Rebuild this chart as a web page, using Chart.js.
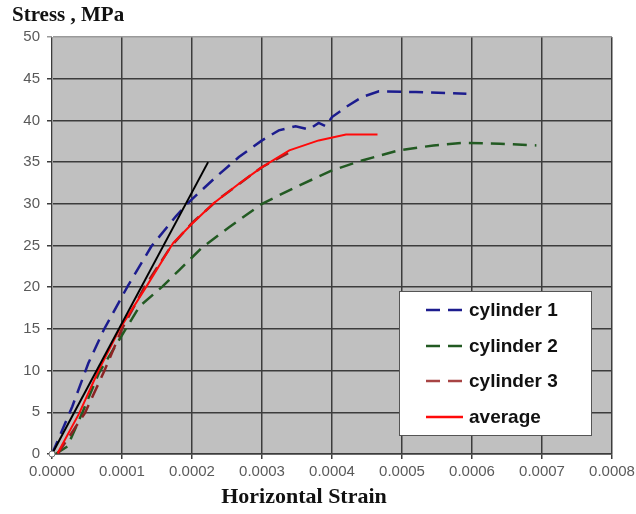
<!DOCTYPE html>
<html>
<head>
<meta charset="utf-8">
<script src="https://cdn.jsdelivr.net/npm/chart.js@4.4.1/dist/chart.umd.min.js"></script>
<style>
  html, body { margin: 0; padding: 0; background: #fff; }
  #wrap { width: 636px; height: 514px; position: relative; }
</style>
</head>
<body>
<div id="wrap"><canvas id="stress"></canvas></div>
<script>
// values (strain, stress in MPa)
const cyl1Strain = [0, 0.000029, 0.000052, 0.000074, 0.000108, 0.000142, 0.000177, 0.000193, 0.000234, 0.000267, 0.0003, 0.000324, 0.000348, 0.000367, 0.000381, 0.000391, 0.0004, 0.00042, 0.000443, 0.000467, 0.00052, 0.000592]
const cyl1Stress = [0, 5.7, 10.9, 14.9, 20.1, 24.9, 28.5, 30.0, 33.2, 35.6, 37.6, 38.8, 39.3, 38.9, 39.7, 39.3, 40.4, 41.6, 42.8, 43.5, 43.4, 43.2]

const cyl2Strain = [0.000005, 0.000022, 0.000043, 0.000067, 0.000096, 0.000125, 0.000158, 0.000181, 0.000215, 0.000253, 0.0003, 0.000348, 0.0004, 0.000443, 0.000495, 0.000545, 0.000587, 0.00064, 0.000692]
const cyl2Stress = [0, 0.9, 4.9, 9.7, 13.7, 17.7, 20.1, 22.0, 24.8, 27.2, 30.0, 32.0, 34.0, 35.2, 36.4, 37.0, 37.3, 37.2, 37.0]

const cyl3Strain = [0.000008, 0.000047, 0.000075, 0.0001, 0.000132, 0.00017, 0.0002, 0.00024, 0.0003, 0.00034]
const cyl3Stress = [0, 4.9, 10.0, 15.0, 20.0, 24.9, 27.7, 30.7, 34.4, 36.2]

const avgStrain = [0.000008, 0.000039, 0.000067, 0.000096, 0.000135, 0.000173, 0.0002, 0.00023, 0.000267, 0.0003, 0.000339, 0.000381, 0.00042, 0.000465]
const avgStress = [0.1, 4.9, 10.1, 14.9, 20.1, 25.3, 27.6, 30.0, 32.4, 34.4, 36.4, 37.6, 38.3, 38.3]

const fitStrain = [0, 0.000223]
const fitStress = [0, 35.0]

const xTicks = [0, 0.0001, 0.0002, 0.0003, 0.0004, 0.0005, 0.0006, 0.0007, 0.0008]

function pts(xs, ys) {
  return xs.map((x, i) => ({ x: x, y: ys[i] }))
}

// grey plot area
const plotBg = {
  id: 'plotBg',
  beforeDraw(chart) {
    const { ctx, chartArea: a } = chart
    ctx.save()
    ctx.fillStyle = '#c0c0c0'
    ctx.fillRect(a.left, a.top, a.right - a.left, a.bottom - a.top)
    ctx.restore()
  }
}

// boxed legend inside the plot + the axis titles
const boxLegend = {
  id: 'boxLegend',
  afterDraw(chart) {
    const ctx = chart.ctx
    ctx.save()
    ctx.font = 'bold 21px "Liberation Serif"'
    ctx.fillStyle = '#111'
    ctx.textBaseline = 'middle'
    ctx.textAlign = 'left'
    ctx.fillText('Stress , MPa', 12, 16)

    ctx.font = 'bold 22px "Liberation Serif"'
    ctx.textAlign = 'center'
    ctx.fillText('Horizontal Strain', 304, 497)
    ctx.textAlign = 'left'

    ctx.fillStyle = '#fff'
    ctx.strokeStyle = '#555'
    ctx.lineWidth = 1
    ctx.fillRect(399.5, 291.5, 192, 144)
    ctx.strokeRect(399.5, 291.5, 192, 144)

    const rows = [310, 346, 381, 417]
    chart.data.datasets.slice(0, 4).forEach((ds, i) => {
      const y = rows[i]
      ctx.beginPath()
      ctx.setLineDash(ds.borderDash || [])
      ctx.strokeStyle = ds.legendColor || ds.borderColor
      ctx.lineWidth = 2.5
      ctx.moveTo(426, y)
      ctx.lineTo(463, y)
      ctx.stroke()
      ctx.setLineDash([])
      ctx.fillStyle = '#111'
      ctx.font = 'bold 19px "Liberation Sans"'
      ctx.fillText(ds.label, 469, y + 1)
    })
    ctx.restore()
  }
}

const ctx = document.getElementById('stress')

new Chart(ctx, {
  type: 'scatter',
  data: {
    datasets: [{
      label: 'cylinder 1',
      data: pts(cyl1Strain, cyl1Stress),
      borderColor: '#1c1c8e',
      borderWidth: 2.5,
      borderDash: [14, 8],
      showLine: true,
      pointRadius: 0,
      order: 3
    }, {
      label: 'cylinder 2',
      data: pts(cyl2Strain, cyl2Stress),
      borderColor: '#225a22',
      borderWidth: 2.5,
      borderDash: [14, 8],
      showLine: true,
      pointRadius: 0,
      order: 4
    }, {
      label: 'cylinder 3',
      data: pts(cyl3Strain, cyl3Stress),
      borderColor: '#8c2424',
      legendColor: '#a84444',
      borderWidth: 2.5,
      borderDash: [14, 8],
      showLine: true,
      pointRadius: 0,
      order: 2
    }, {
      label: 'average',
      data: pts(avgStrain, avgStress),
      borderColor: '#ff0a0a',
      borderWidth: 2,
      showLine: true,
      pointRadius: 0,
      order: 1
    }, {
      label: 'initial slope',
      data: pts(fitStrain, fitStress),
      borderColor: '#000',
      borderWidth: 2,
      showLine: true,
      clip: 6,
      pointRadius: [3, 0],
      pointBackgroundColor: '#fff',
      pointBorderColor: '#777',
      pointBorderWidth: 1,
      order: 0
    }]
  },
  options: {
    responsive: true,
    maintainAspectRatio: false,
    animation: false,
    layout: { padding: { left: 0, right: 24, top: 37, bottom: 0 } },
    plugins: {
      legend: { display: false },
      tooltip: { enabled: false }
    },
    scales: {
      x: {
        type: 'linear',
        min: 0,
        max: 0.0008,
        afterFit: s => { s.height = 60; s.paddingRight = 0; s.paddingLeft = 0 },
        afterBuildTicks: s => { s.ticks = xTicks.map(v => ({ value: v })) },
        ticks: {
          color: '#5a5a5a',
          font: { family: 'Liberation Sans', size: 15 },
          padding: 4,
          maxRotation: 0,
          callback: v => v.toFixed(4)
        },
        grid: { color: '#3c3c3c', lineWidth: 1.5, tickLength: 5 },
        border: { color: '#3c3c3c', width: 1.5 }
      },
      y: {
        min: 0,
        max: 50,
        afterFit: s => { s.width = 52 },
        ticks: {
          stepSize: 5,
          color: '#5a5a5a',
          font: { family: 'Liberation Sans', size: 15 },
          padding: 7
        },
        grid: {
          color: c => c.tick && c.tick.value === 50 ? '#9a9a9a' : '#3c3c3c',
          lineWidth: 1.5,
          tickLength: 5
        },
        border: { color: '#9a9a9a', width: 1 }
      }
    }
  },
  plugins: [plotBg, boxLegend]
})
</script>
</body>
</html>
